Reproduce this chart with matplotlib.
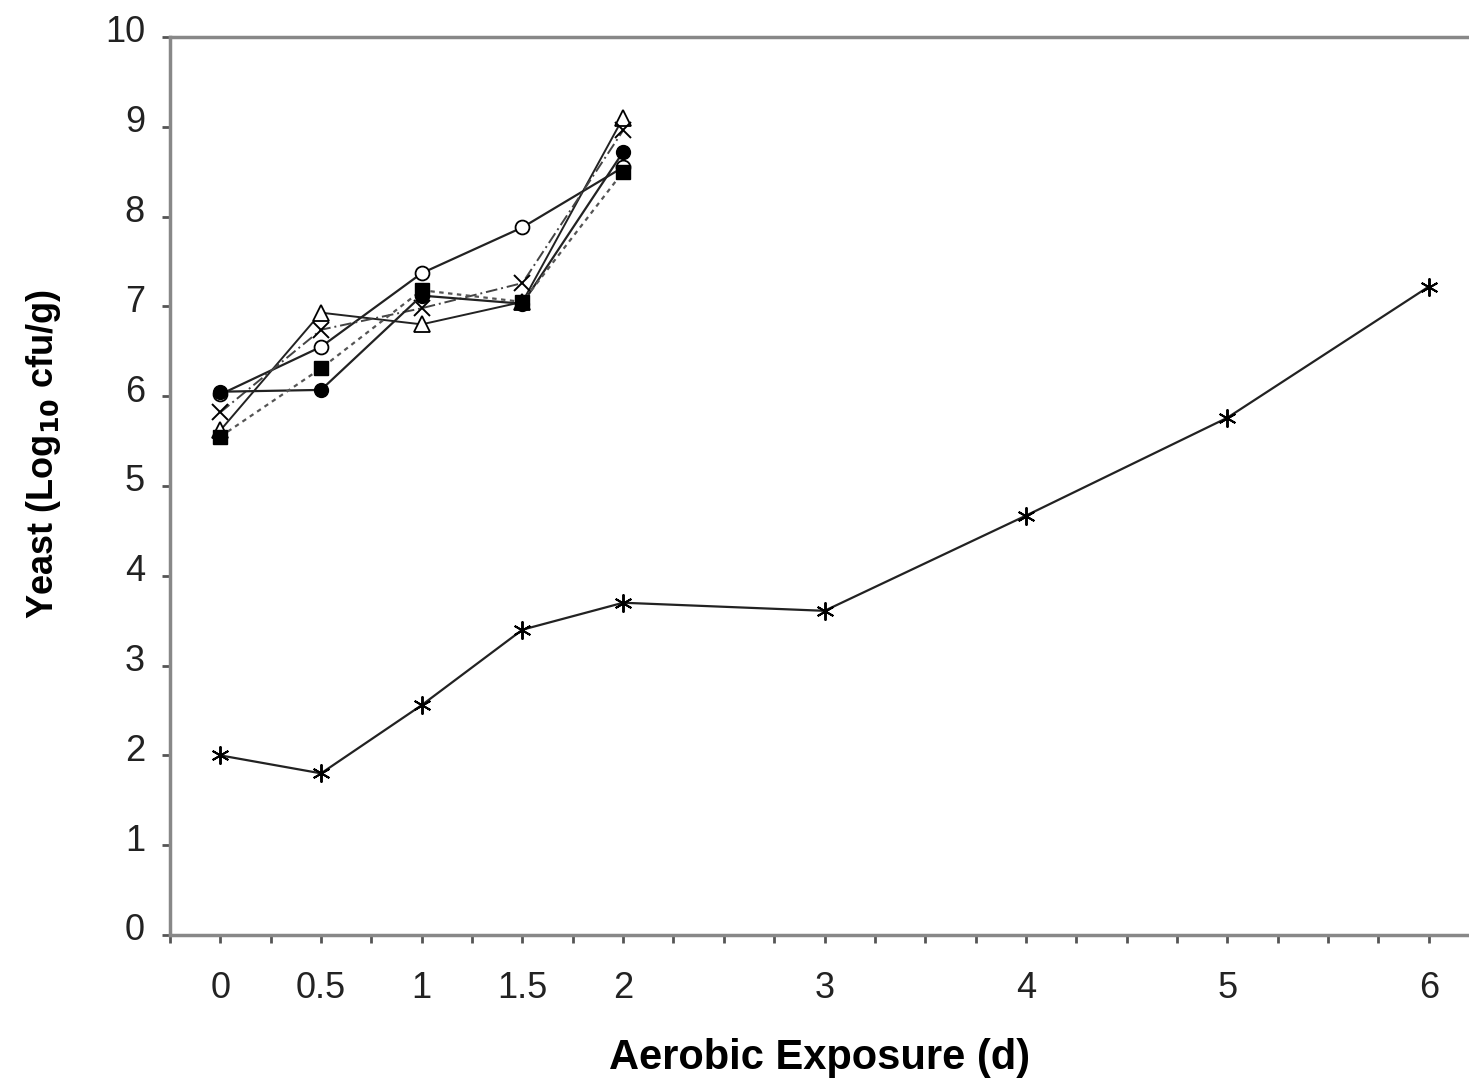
import numpy as np
import matplotlib
matplotlib.use('Agg')
import matplotlib.pyplot as plt
import matplotlib.transforms as mtransforms
from matplotlib.ticker import FixedLocator, MultipleLocator

plt.rcParams['font.family'] = ['Liberation Sans', 'DejaVu Sans']

# days of aerobic exposure
days_short = [0, 0.5, 1, 1.5, 2]
days_long = [0, 0.5, 1, 1.5, 2, 3, 4, 5, 6]

# yeast counts (log10 cfu/g)
filled_circle = [6.05, 6.07, 7.12, 7.03, 8.72]
open_circle = [6.02, 6.55, 7.37, 7.88, 8.55]
filled_square = [5.55, 6.31, 7.18, 7.05, 8.50]
open_triangle = [5.62, 6.93, 6.80, 7.05, 9.10]
cross = [5.82, 6.74, 6.98, 7.26, 8.96]
asterisk = [2.00, 1.80, 2.56, 3.40, 3.70, 3.61, 4.67, 5.76, 7.22]

tick_pos = [0, 0.5, 1, 1.5, 2, 3, 4, 5, 6]
tick_lab = ['0', '0.5', '1', '1.5', '2', '3', '4', '5', '6']

fig = plt.figure(figsize=(14.69, 10.82), dpi=100)
ax = fig.add_axes([170/1469, 1 - 935/1082, 1 - 170/1469, (935 - 37)/1082])

lc = '#222222'
ax.plot(days_short, open_circle, color=lc, lw=1.6, marker='o', ms=10,
        mfc='white', mec='black', mew=1.3)
ax.plot(days_short, open_triangle, color=lc, lw=1.4, marker='^', ms=11,
        mfc='white', mec='black', mew=1.3)
ax.plot(days_short, cross, color='#444444', lw=1.4, ls=(0, (6, 2, 1, 2)),
        marker='x', ms=11, mec='black', mew=1.4)
ax.plot(days_short, filled_circle, color=lc, lw=1.6, marker='o', ms=10,
        mfc='black', mec='black')
ax.plot(days_short, filled_square, color='#555555', lw=1.6, ls=(0, (2, 2)),
        marker='s', ms=10, mfc='black', mec='black')
ax.plot(days_long, asterisk, color=lc, lw=1.6, marker=(6, 2, 0), ms=13,
        mec='black', mew=1.4)

ax.set_xlim(-0.25, 6.2)
ax.set_ylim(0, 10)
ax.xaxis.set_major_locator(FixedLocator(tick_pos))
ax.set_xticklabels(tick_lab)
ax.xaxis.set_minor_locator(MultipleLocator(0.25))
ax.yaxis.set_major_locator(MultipleLocator(1))

axis_col = '#888888'
for s in ['left', 'top', 'bottom']:
    ax.spines[s].set_color(axis_col)
    ax.spines[s].set_linewidth(2.5)
ax.spines['right'].set_visible(False)

ax.tick_params(axis='both', which='both', color='#555555', width=2, length=6,
               direction='out', labelsize=26, labelcolor='#222222')
ax.tick_params(axis='x', which='major', pad=20)
ax.tick_params(axis='y', pad=12)

# y tick labels sit a little above their ticks in the original
shift = mtransforms.ScaledTranslation(0, 0.08, fig.dpi_scale_trans)
for lab in ax.get_yticklabels():
    lab.set_transform(lab.get_transform() + shift)

ax.set_xlabel('Aerobic Exposure (d)', fontsize=30, fontweight='bold')
ax.xaxis.set_label_coords(0.5, -0.115)
ax.set_ylabel('Yeast (Log$_{\\mathbf{10}}$ cfu/g)', fontsize=26, fontweight='bold')
ax.yaxis.set_label_coords(-0.082, 0.535)

fig.savefig('out.png', dpi=100, facecolor='white')
